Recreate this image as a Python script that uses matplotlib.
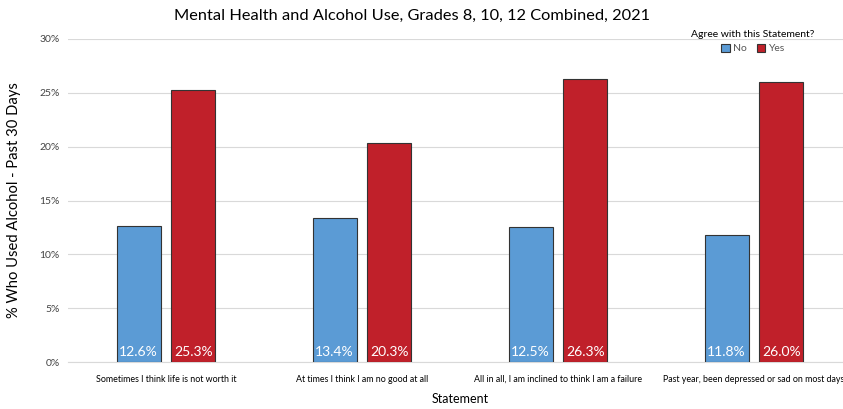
import matplotlib.pyplot as plt
import numpy as np

plt.rcParams['font.family'] = ['Lato', 'DejaVu Sans']

statements = ['Sometimes I think life is not worth it',
              'At times I think I am no good at all',
              'All in all, I am inclined to think I am a failure',
              'Past year, been depressed or sad on most days']
no_vals = [12.6, 13.4, 12.5, 11.8]
yes_vals = [25.3, 20.3, 26.3, 26.0]

fig = plt.figure(figsize=(8.43, 4.09), dpi=100)
ax = fig.add_axes([68/843, 1 - 362/409, 784/843, 323/409])

x = np.arange(len(statements))
w = 0.224
b1 = ax.bar(x - 0.14, no_vals, w, color='#5B9BD5', edgecolor='#333333', linewidth=0.8, zorder=3)
b2 = ax.bar(x + 0.14, yes_vals, w, color='#C0202A', edgecolor='#333333', linewidth=0.8, zorder=3)

for bars, vals in [(b1, no_vals), (b2, yes_vals)]:
    for r, v in zip(bars, vals):
        ax.text(r.get_x() + r.get_width() / 2, 0.4, f'{v:.1f}%', ha='center', va='bottom',
                color='white', fontsize=10)

ax.set_xlim(-0.5, 3.5)
ax.set_ylim(0, 30)
ax.set_yticks(np.arange(0, 31, 5))
ax.set_yticklabels([f'{t}%' for t in range(0, 31, 5)], fontsize=7.5, color='#444444')
ax.set_xticks(x)
ax.set_xticklabels(statements, fontsize=6.4)
ax.tick_params(axis='both', length=0, pad=6)
ax.tick_params(axis='x', pad=9)
ax.grid(axis='y', color='#d9d9d9', linewidth=0.8, zorder=0)
for s in ['top', 'right', 'left']:
    ax.spines[s].set_visible(False)
ax.spines['bottom'].set_color('#d9d9d9')

ax.set_ylabel('% Who Used Alcohol - Past 30 Days', fontsize=10.6, labelpad=13)
ax.set_xlabel('Statement', fontsize=9, labelpad=7)
fig.text(412/843, 1 - 16/409, 'Mental Health and Alcohol Use, Grades 8, 10, 12 Combined, 2021',
         ha='center', va='center', fontsize=11.8)

leg = ax.legend([b1, b2], ['No', 'Yes'], title='Agree with this Statement?', ncol=2,
                loc='upper right', bbox_to_anchor=(752/784, 1.045), frameon=False,
                fontsize=7.5, title_fontsize=7.5, handlelength=0.8, handleheight=0.8,
                handletextpad=0.3, columnspacing=1.0, borderpad=0)
for t in leg.get_texts():
    t.set_color('#555555')

fig.savefig('out.png', dpi=100)
